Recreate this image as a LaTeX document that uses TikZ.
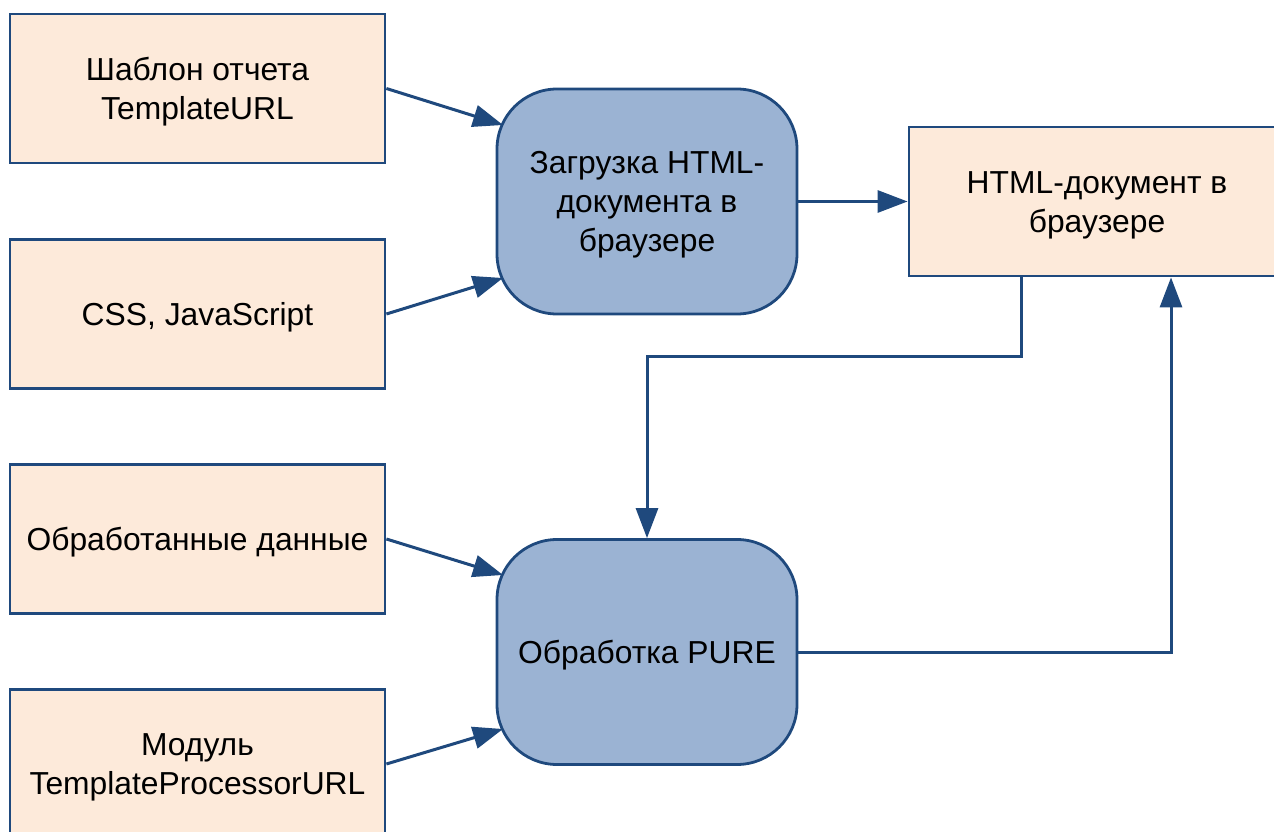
\documentclass[tikz,border=0pt]{standalone}
\usepackage{fontspec}
\setmainfont{Liberation Sans}
\usetikzlibrary{arrows.meta}
\definecolor{edge}{HTML}{1F497D}
\definecolor{peach}{HTML}{FDEADA}
\definecolor{steel}{HTML}{9BB3D3}
% tall invisible strut that pushes a text block slightly down in its box
\newcommand{\toprow}{\rule{0pt}{29pt}}
\begin{document}
\begin{tikzpicture}[x=1pt,y=-1pt,
  boxtext/.style={align=center, inner sep=0pt,
    font=\fontsize{31.8}{39}\selectfont},
  databox/.style={boxtext, draw=edge, fill=peach, line width=2.8pt,
    minimum width=375pt, minimum height=149pt},
  procbox/.style={boxtext, draw=edge, fill=steel, line width=2.8pt,
    rounded corners=60pt, minimum width=300pt, minimum height=225pt},
  flow/.style={draw=edge, line width=3pt, -{Triangle[length=30pt,width=22pt]}}]
\useasboundingbox (0,0) rectangle (1274,832);

% input data boxes
\node[databox] (tpl)  at (197.5,88.5)  {\toprow Шаблон отчета\\TemplateURL};
\node[databox] (css)  at (197.5,314)   {\toprow CSS, JavaScript};
\node[databox] (data) at (197.5,539)   {\toprow Обработанные данные};
\node[databox] (mod)  at (197.5,764)   {\toprow Модуль\\TemplateProcessorURL};

% processes
\node[procbox] (load) at (647,201.5) {\toprow Загрузка HTML-\\документа в\\браузере};
\node[procbox] (pure) at (647,652)   {\toprow Обработка PURE};

% result
\node[databox, minimum width=376pt] (doc) at (1097,201.5) {\toprow HTML-документ в\\браузере};

% entry points on the rounded borders
\coordinate (loadA) at (503,125);
\coordinate (loadB) at (503,278);
\coordinate (pureA) at (503,575);
\coordinate (pureB) at (503,729);

\draw[flow] (tpl.east)  -- (loadA);
\draw[flow] (css.east)  -- (loadB);
\draw[flow] (data.east) -- (pureA);
\draw[flow] (mod.east)  -- (pureB);
\draw[flow] (load.east) -- (doc.west);

\draw[flow] (doc.south -| 1021,0) |- (647,356) -- (pure.north);
\draw[flow] (pure.east) -| (doc.south -| 1171,0);
\end{tikzpicture}
\end{document}
